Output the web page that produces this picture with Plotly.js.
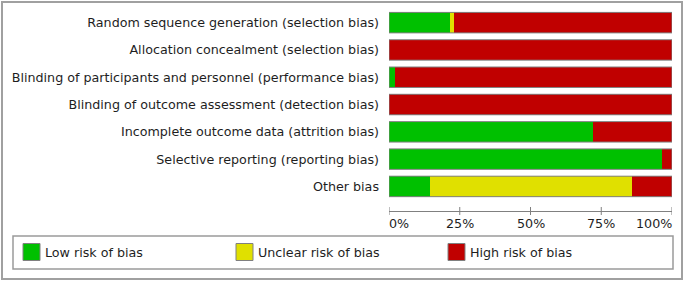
<!DOCTYPE html>
<html>
<head>
<meta charset="utf-8">
<script src="https://cdn.plot.ly/plotly-3.0.1.min.js"></script>
<style>html,body{margin:0;padding:0;background:#fff;}#chart{width:685px;height:282px;}</style>
</head>
<body>
<div id="chart"></div>
<script>
// ---- data ----
const categories = [
  "Random sequence generation (selection bias)",
  "Allocation concealment (selection bias)",
  "Blinding of participants and personnel (performance bias)",
  "Blinding of outcome assessment (detection bias)",
  "Incomplete outcome data (attrition bias)",
  "Selective reporting (reporting bias)",
  "Other bias"
];
const lowRisk     = [21.4, 0, 2.2, 0, 72.2, 96.5, 14.5];
const unclearRisk = [1.6, 0, 0, 0, 0, 0, 71.5];
const highRisk    = [77.0, 100, 97.8, 100, 27.8, 3.5, 14.0];
const seriesNames  = ["Low risk of bias", "Unclear risk of bias", "High risk of bias"];
const seriesColors = ["#00c000", "#e0e000", "#c00000"];
const tickVals   = [0, 25, 50, 75, 100];
const tickLabels = ["0%", "25%", "50%", "75%", "100%"];

// ---- layout helpers (pixel -> paper) ----
const W = 685, H = 282;
const M = {l: 389, r: 13, t: 9, b: 71};
const PW = W - M.l - M.r, PH = H - M.t - M.b;
const px = x => (x - M.l) / PW;
const py = y => (H - M.b - y) / PH;
const FONT = "DejaVu Sans, Verdana, sans-serif";
const FS = 12.7;
const TXT = "#1e1e1e";
const GRAY = "#808080";

const seriesValues = [lowRisk, unclearRisk, highRisk];
const traces = seriesValues.map((vals, k) => ({
  type: "bar",
  orientation: "h",
  y: categories,
  x: vals,
  name: seriesNames[k],
  marker: {color: seriesColors[k], line: {width: 0}},
  hoverinfo: "skip",
  showlegend: false
}));

const shapes = [];
// bar outlines
categories.forEach((c, i) => {
  shapes.push({type: "rect", xref: "x", yref: "y", x0: 0, x1: 100, y0: i - 0.375, y1: i + 0.375,
    line: {color: GRAY, width: 1}, fillcolor: "rgba(0,0,0,0)", layer: "above"});
});
// ticks crossing the axis line
tickVals.forEach(v => {
  shapes.push({type: "line", xref: "x", yref: "paper", x0: v, x1: v, y0: py(207), y1: py(215),
    line: {color: GRAY, width: 1}});
});
// legend box
shapes.push({type: "rect", xref: "paper", yref: "paper", x0: px(13), x1: px(673), y0: py(236), y1: py(269),
  line: {color: "#9a9a9a", width: 1.5}, fillcolor: "rgba(0,0,0,0)"});
// outer frame
shapes.push({type: "rect", xref: "paper", yref: "paper", x0: px(2), x1: px(682), y0: py(2), y1: py(279),
  line: {color: "#a0a0a0", width: 2}, fillcolor: "rgba(0,0,0,0)"});

const annotations = [];
// x tick labels
tickVals.forEach((v, i) => {
  const anchor = i === 0 ? "left" : (i === tickVals.length - 1 ? "right" : "center");
  annotations.push({xref: "x", yref: "paper", x: v, y: py(223), text: tickLabels[i],
    showarrow: false, xanchor: anchor, yanchor: "middle",
    xshift: anchor === "left" ? -2 : (anchor === "right" ? 2 : 0),
    font: {family: FONT, size: FS, color: TXT}});
});
// legend entries
const legendX = [23, 236, 448];
seriesNames.forEach((n, k) => {
  shapes.push({type: "rect", xref: "paper", yref: "paper",
    x0: px(legendX[k]), x1: px(legendX[k] + 17), y0: py(243.5), y1: py(260.5),
    fillcolor: seriesColors[k], line: {color: GRAY, width: 1}});
  annotations.push({xref: "paper", yref: "paper", x: px(legendX[k] + 20), y: py(252), text: n,
    showarrow: false, xanchor: "left", yanchor: "middle",
    font: {family: FONT, size: FS, color: TXT}});
});

const layout = {
  width: W, height: H,
  margin: M,
  paper_bgcolor: "#ffffff",
  plot_bgcolor: "#ffffff",
  barmode: "stack",
  bargap: 0.25,
  showlegend: false,
  font: {family: FONT, size: FS, color: TXT},
  xaxis: {range: [0, 100], showgrid: false, zeroline: false, showline: true, linecolor: GRAY, linewidth: 1,
    ticks: "", showticklabels: false, fixedrange: true},
  yaxis: {type: "category", range: [6.9, -0.5], showgrid: false, zeroline: false, showline: false,
    ticks: "", ticklabelstandoff: 9, tickfont: {family: FONT, size: FS, color: TXT}, fixedrange: true},
  shapes: shapes,
  annotations: annotations
};

Plotly.newPlot("chart", traces, layout, {displayModeBar: false, staticPlot: true});
</script>
</body>
</html>
